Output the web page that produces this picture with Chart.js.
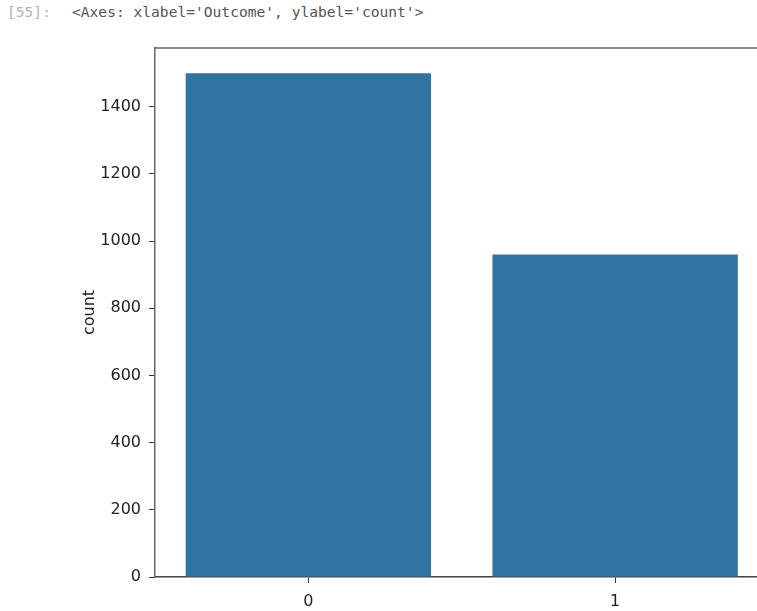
<!DOCTYPE html>
<html>
<head>
<meta charset="utf-8">
<script src="https://cdn.jsdelivr.net/npm/chart.js@4/dist/chart.umd.min.js"></script>
<style>
    body { margin: 0; background: #fff; overflow: hidden; width: 757px; height: 611px; }
    .hdr {
        position: absolute; top: 3px;
        font-family: "DejaVu Sans Mono", monospace; font-size: 14.6px;
        color: #555; white-space: pre;
    }
    #prompt { left: 7px; color: #b3b3b3; }
    #repr { left: 72px; }
    #wrap { position: absolute; left: 0; top: 0; width: 780px; height: 611px; }
</style>
</head>
<body>
<div class="hdr" id="prompt">[55]:</div>
<div class="hdr" id="repr">&lt;Axes: xlabel='Outcome', ylabel='count'&gt;</div>
<div id="wrap"><canvas id="chart" width="780" height="611"></canvas></div>
<script>
// data
const outcomes = ['0', '1'];
const counts = [1500, 960];
const yTicks = [0, 200, 400, 600, 800, 1000, 1200, 1400];

// top spine (matplotlib frame)
const frameTop = {
    id: 'frameTop',
    afterDraw(chart) {
        const { ctx, chartArea } = chart;
        ctx.save();
        ctx.strokeStyle = '#666';
        ctx.lineWidth = 1.5;
        ctx.beginPath();
        ctx.moveTo(chartArea.left, chartArea.top);
        ctx.lineTo(chartArea.right, chartArea.top);
        ctx.stroke();
        ctx.restore();
    }
};

const ctx = document.getElementById('chart').getContext('2d');
new Chart(ctx, {
    type: 'bar',
    data: {
        labels: outcomes,
        datasets: [{
            data: counts,
            backgroundColor: '#3274a1',
            barPercentage: 0.8,
            categoryPercentage: 1.0
        }]
    },
    options: {
        responsive: false,
        animation: false,
        layout: { padding: { left: 80, right: 11.5, top: 48, bottom: 0 } },
        plugins: { legend: { display: false }, tooltip: { enabled: false } },
        scales: {
            x: {
                offset: true,
                grid: { display: true, drawOnChartArea: false, tickLength: 6, tickColor: '#333', offset: false },
                border: { color: '#444', width: 1.5 },
                ticks: { color: '#222', padding: 9, font: { family: 'DejaVu Sans', size: 16 } },
                afterFit(scale) { scale.height = 34; }
            },
            y: {
                min: 0,
                max: 1575,
                afterBuildTicks(scale) { scale.ticks = yTicks.map(v => ({ value: v })); },
                grid: { display: true, drawOnChartArea: false, tickLength: 6, tickColor: '#333' },
                border: { color: '#666', width: 1.5 },
                ticks: {
                    color: '#222', padding: 8, font: { family: 'DejaVu Sans', size: 16 },
                    callback: v => String(v)
                },
                title: { display: true, text: 'count', color: '#222', padding: 0, font: { family: 'DejaVu Sans', size: 16 } },
                afterFit(scale) { scale.width = 75; }
            }
        }
    },
    plugins: [frameTop]
});
</script>
</body>
</html>
